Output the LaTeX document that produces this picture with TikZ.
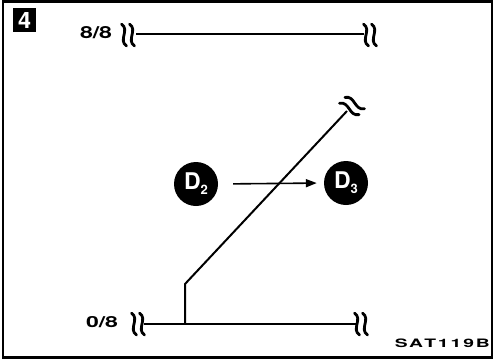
\documentclass[tikz,border=0pt]{standalone}
\usepackage{fontspec}
\setmainfont{TeX Gyre Heros}
\usepackage{graphicx}
\usetikzlibrary{arrows.meta}
\tikzset{
  ln/.style={line width=2pt},
  brk/.pic={
    \foreach \dx in {-4,4}{
      \draw[line width=2.8pt,line cap=round] (\dx-2.5,-11) .. controls (\dx+6,-5) and (\dx-6,5) .. (\dx+2.5,11);
    }
  },
  dot/.style={circle,fill=black,text=white,inner sep=0pt,minimum size=44pt,font=\bfseries},
  lab/.style={inner sep=0pt,font=\bfseries},
}
\newcommand{\Dsub}[1]{\fontsize{23}{23}\selectfont D\raisebox{-5pt}{\fontsize{13}{13}\selectfont #1}}
\begin{document}
\begin{tikzpicture}[x=1pt,y=-1pt]
\useasboundingbox (0,0) rectangle (494,360);
% frame
\draw[line width=2.5pt] (3,1.5) rectangle (492,357.5);
% number box
\node[fill=black,text=white,minimum width=23.5pt,minimum height=24pt,inner sep=0pt] (num) at (24.5,20.3) {\resizebox{13pt}{16pt}{\bfseries 4}};
% labels
\node[lab] (l88) at (96,33) {\resizebox{32pt}{12pt}{8/8}};
\node[lab] (l08) at (102,322.5) {\resizebox{32pt}{11pt}{0/8}};
\node[lab,anchor=south east] (sat) at (490,347.7) {\resizebox{95pt}{8.6pt}{S\kern0.8pt A\kern0.6pt T\kern1pt 1\kern1pt 1\kern1pt 9\kern1pt B}};
% top line
\coordinate (t1) at (136,34);
\coordinate (t2) at (364,34);
\draw[ln] (t1) -- (t2);
\pic at (128,35) {brk};
\pic at (370,35) {brk};
% bottom line
\coordinate (b1) at (144,324);
\coordinate (b2) at (356,324);
\draw[ln] (b1) -- (b2);
\pic at (138,324) {brk};
\pic at (361,324) {brk};
% shift line
\coordinate (s0) at (185,324);
\coordinate (s1) at (185,284);
\coordinate (s2) at (347,111);
\draw[ln,line join=miter] (s0) -- (s1) -- (s2);
\pic[rotate=47] at (352,106) {brk};
% circles
\node[dot] (d2) at (196,184) {\Dsub{2}};
\node[dot] (d3) at (346,183) {\Dsub{3}};
\draw[line width=1.6pt,-{Triangle[length=11pt,width=8pt]},shorten <=15pt,shorten >=7pt] (d2.east) -- (d3.west);
\end{tikzpicture}
\end{document}
